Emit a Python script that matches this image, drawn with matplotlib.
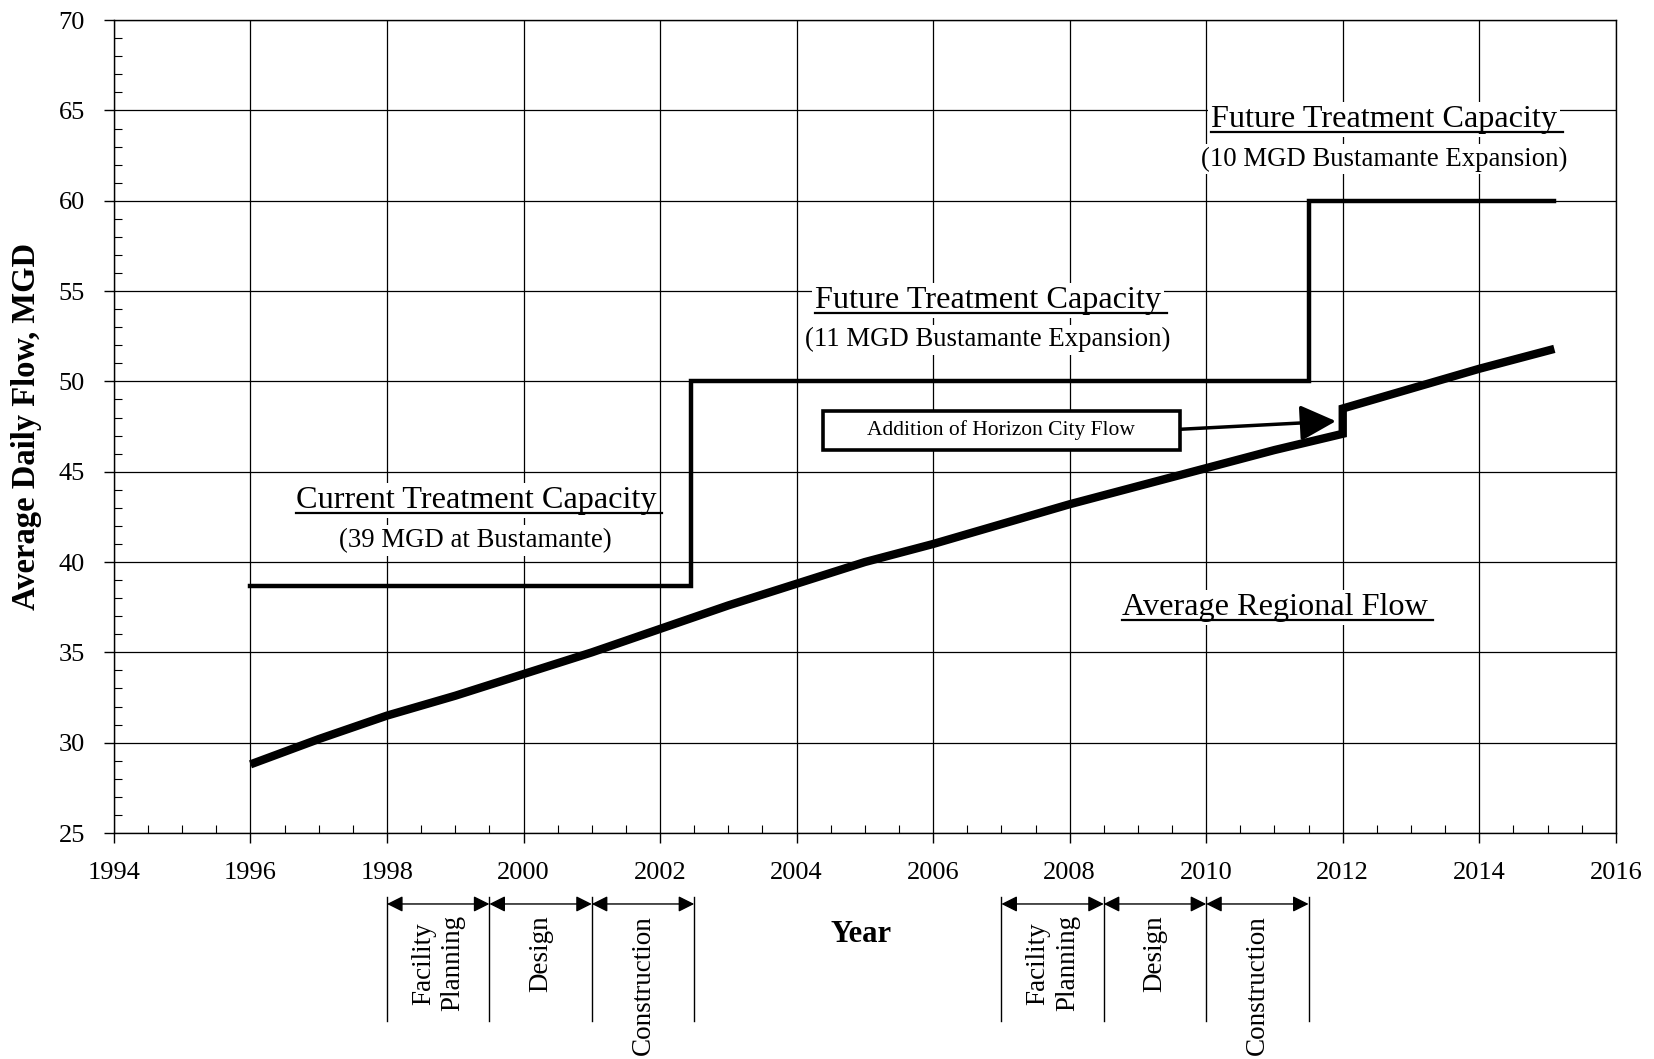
import numpy as np
import matplotlib.pyplot as plt
from matplotlib.ticker import MultipleLocator
from matplotlib.patches import Rectangle
import matplotlib.transforms as mtransforms

plt.rcParams['font.family'] = ['Liberation Serif', 'DejaVu Serif']

# capacity steps (MGD)
cap_years = [1996, 2002.45, 2002.45, 2011.5, 2011.5, 2015.1]
cap_flow = [38.7, 38.7, 50.0, 50.0, 60.0, 60.0]

# average regional flow (MGD); jump at 2012 when Horizon City flow is added
flow_years = [1996, 1997, 1998, 1999, 2000, 2001, 2002, 2003, 2004, 2005,
              2006, 2007, 2008, 2009, 2010, 2011, 2012, 2012, 2013, 2014, 2015.1]
flow_vals = [28.8, 30.2, 31.5, 32.6, 33.8, 35.0, 36.3, 37.6, 38.8, 40.0,
             41.0, 42.1, 43.2, 44.2, 45.2, 46.2, 47.1, 48.5, 49.6, 50.7, 51.8]

# project phases (boundaries in years)
phase_edges_1 = [1998.0, 1999.5, 2001.0, 2002.5]
phase_edges_2 = [2007.0, 2008.5, 2010.0, 2011.5]
phase_names = ['Facility\nPlanning', 'Design', 'Construction']

fig = plt.figure(figsize=(16.54, 10.59), dpi=100)
ax = fig.add_axes([0.0689, 0.2134, 0.908, 0.7676])

ax.plot(flow_years, flow_vals, color='black', lw=6.0, solid_capstyle='butt',
        solid_joinstyle='miter', zorder=3)
ax.plot(cap_years, cap_flow, color='black', lw=3.2, solid_joinstyle='miter', zorder=3)

ax.set_xlim(1994, 2016)
ax.set_ylim(25, 70)
ax.xaxis.set_major_locator(MultipleLocator(2))
ax.xaxis.set_minor_locator(MultipleLocator(0.5))
ax.yaxis.set_major_locator(MultipleLocator(5))
ax.yaxis.set_minor_locator(MultipleLocator(1))
ax.grid(True, which='major', color='black', lw=0.9)
ax.set_axisbelow(True)
ax.tick_params(which='major', direction='out', length=7, width=1, labelsize=19, pad=14)
ax.tick_params(which='minor', direction='in', length=6, width=0.8)
for s in ax.spines.values():
    s.set_linewidth(1.0)

ax.set_ylabel('Average Daily Flow, MGD', fontsize=23.5, fontweight='bold', labelpad=12)

bb = dict(facecolor='white', edgecolor='none', pad=2)

def label(x, y, title, sub=None):
    t = ax.text(x, y, title, fontsize=23.2, ha='center', va='center', bbox=bb, zorder=5)
    fig.canvas.draw()
    ext = t.get_window_extent()
    inv = ax.transData.inverted()
    (x0, y0), (x1, _) = inv.transform([[ext.x0, ext.y0 + 2], [ext.x1 + 6, ext.y0]])
    ax.plot([x0, x1], [y0, y0], color='black', lw=1.6, zorder=6)
    if sub:
        ax.text(x, y - 2.2, sub, fontsize=19.3, ha='center', va='center', bbox=bb, zorder=4)

label(1999.3, 43.4, 'Current Treatment Capacity', '(39 MGD at Bustamante)')
label(2006.8, 54.5, 'Future Treatment Capacity', '(11 MGD Bustamante Expansion)')
label(2012.6, 64.5, 'Future Treatment Capacity', '(10 MGD Bustamante Expansion)')
label(2011.0, 37.5, 'Average Regional Flow')

# callout box for the Horizon City flow
box_x, box_y, box_w, box_h = 2007.0, 47.3, 5.24, 2.16
ax.add_patch(Rectangle((box_x - box_w / 2, box_y - box_h / 2), box_w, box_h,
                       facecolor='white', edgecolor='black', lw=2.6, zorder=7))
ax.text(box_x, box_y, 'Addition of Horizon City Flow', fontsize=15.5, ha='center',
        va='center', zorder=8)
ax.annotate('', xy=(2011.9, 47.8), xytext=(box_x + box_w / 2, 47.35),
            arrowprops=dict(arrowstyle='-|>', color='black', lw=2.5,
                            mutation_scale=55, shrinkA=0, shrinkB=0), zorder=6)

trans = mtransforms.blended_transform_factory(ax.transData, ax.transAxes)
ax.text(2004.95, -0.125, 'Year', transform=trans,
        fontsize=22, fontweight='bold', ha='center', va='center')

for edges in (phase_edges_1, phase_edges_2):
    for e in edges:
        ax.plot([e, e], [-0.079, -0.231], transform=trans, color='black', lw=1.0, clip_on=False)
    for i, name in enumerate(phase_names):
        a, b = edges[i], edges[i + 1]
        ax.annotate('', xy=(a, -0.0873), xytext=(b, -0.0873), xycoords=trans, textcoords=trans,
                    arrowprops=dict(arrowstyle='<|-|>', color='black', lw=1.0,
                                    mutation_scale=24, shrinkA=0, shrinkB=0),
                    annotation_clip=False)
        ax.text((a + b) / 2, -0.101, name, transform=trans, rotation=90, fontsize=19.5,
                ha='center', va='top', linespacing=1.25)

fig.savefig('out.png', dpi=100)
